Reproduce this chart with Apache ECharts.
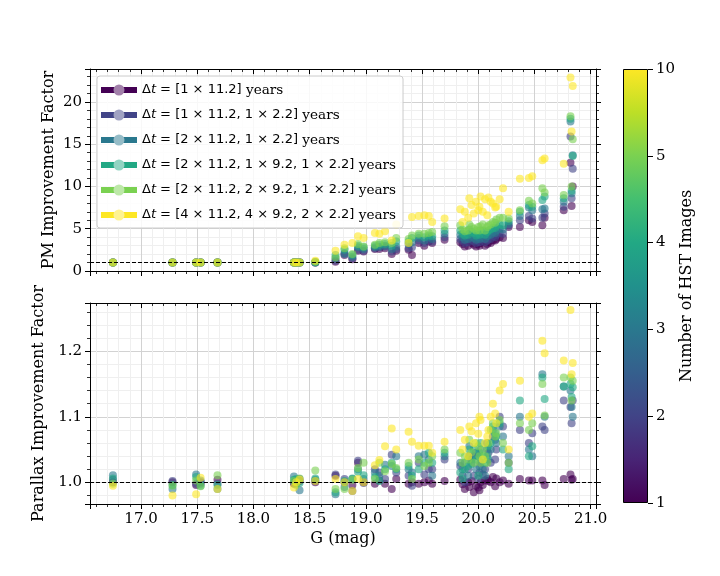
<!DOCTYPE html>
<html><head><meta charset="utf-8">
<script src="https://cdn.jsdelivr.net/npm/echarts@6/dist/echarts.min.js"></script>
<style>html,body{margin:0;padding:0;background:#fff}#c{width:720px;height:576px}</style>
</head><body><div id="c"></div>
<script>
// ---------------- data ----------------
const G = [16.75,17.28,17.49,17.53,17.68,18.36,18.38,18.41,18.55,
  18.73,18.81,18.88,18.93,18.98,19.08,19.12,19.17,19.23,19.27,19.38,19.41,19.47,19.52,19.56,19.59,19.70,
  19.86,19.88,19.91,19.94,19.96,19.98,20.00,20.02,20.04,20.06,20.08,20.11,20.13,20.16,20.19,20.22,20.27,20.37,20.45,20.48,20.57,20.59,20.76,20.82,20.84,20.83,
  19.84,19.92,20.01,20.09,20.15];

const pm1 = [1,1,1,1,1,1,1,1,1.0,
  1.1,1.9,1.4,2.4,2.3,2.6,2.6,2.7,2.0,2.4,2.5,1.9,3.3,3.0,3.5,3.3,3.7,
  3.2,2.9,3.0,3.3,3.1,2.9,3.2,3.3,3.5,3.0,3.2,3.3,3.6,3.8,4.0,3.9,5.2,5.2,6.0,5.8,5.4,6.3,7.2,12.8,10.0,7.7,
  3.4,3.5,3.0,3.4,3.6];
const pm2 = [1,1,1,1,1,1,1,1,1.0,
  1.2,2.1,1.5,2.5,2.4,2.7,2.8,2.9,2.3,2.6,2.7,2.8,3.6,3.3,3.7,3.5,4.0,
  3.6,3.3,3.4,3.7,3.5,3.3,3.6,3.8,3.9,3.4,3.6,3.8,4.1,4.3,4.5,4.4,5.4,6.0,6.5,6.2,6.3,6.8,7.6,15.9,12.1,8.6,
  3.8,3.9,3.4,3.8,4.0];
const pm3 = [1,1,1,1,1,1,1,1,1.0,
  1.5,2.0,1.7,2.8,2.6,2.8,2.9,3.0,2.6,2.9,3.2,3.4,3.9,3.6,4.0,3.8,4.4,
  4.0,3.7,3.8,4.1,3.9,3.7,4.0,4.2,4.3,3.8,4.1,4.3,4.6,4.8,5.0,4.9,5.6,6.5,7.5,7.2,7.3,7.4,8.2,17.7,13.7,9.2,
  4.3,4.4,3.8,4.3,4.5];
const pm4 = [1,1,1,1,1,1,1,1,1.05,
  1.9,2.5,1.9,3.0,2.8,3.0,3.1,3.2,3.0,3.5,3.5,3.9,4.2,4.0,4.2,4.1,4.8,
  4.4,4.2,4.3,4.6,4.5,4.2,4.5,4.8,4.8,4.3,4.6,4.9,5.1,5.4,5.5,5.4,5.9,7.0,7.8,7.6,8.4,8.8,8.6,18.0,13.6,9.5,
  4.8,4.9,4.3,4.8,5.1];
const pm5 = [1,1,1,1,1,1,1,1,1.1,
  1.6,2.7,2.0,3.2,2.9,3.1,3.3,3.4,3.3,3.9,3.8,4.2,4.4,4.4,4.5,4.6,5.3,
  4.9,4.7,4.8,5.2,5.0,4.8,5.2,5.3,5.5,4.8,5.2,5.5,5.8,6.1,6.3,6.3,6.2,7.2,8.3,8.0,9.8,9.3,9.0,18.3,15.6,10.0,
  5.4,5.5,4.8,5.4,5.7];
const pm6 = [1,1,1,1,1,1,1,1,1.2,
  2.4,3.1,3.3,4.1,3.9,4.5,4.4,4.7,3.6,5.5,3.3,6.4,6.5,6.6,6.5,5.8,6.2,
  5.8,7.0,6.3,7.8,6.8,8.2,7.2,8.8,7.0,8.5,6.6,8.2,8.0,7.6,8.5,9.8,7.0,10.9,11.0,11.2,13.1,13.3,12.7,22.9,21.9,16.5,
  7.3,8.6,7.6,8.7,7.5];

const plx1 = [1.000,1.000,0.996,1.000,1.004,0.998,1.000,1.002,1.000,
  1.010,1.000,0.996,1.030,1.000,0.998,1.003,0.998,0.990,1.005,0.998,1.000,0.998,1.000,1.003,0.998,1.002,
  0.997,0.990,1.000,1.002,0.985,0.995,0.992,1.000,0.996,1.003,1.005,1.000,1.008,1.006,1.000,1.003,0.998,1.005,1.003,1.003,1.003,0.996,1.005,1.012,1.005,1.004,
  1.004,0.993,0.988,1.002,0.994];
const plx2 = [1.004,1.002,0.998,0.998,0.998,1.000,1.003,1.005,1.002,
  1.012,1.005,0.987,1.033,0.999,1.020,1.015,1.005,1.042,1.015,1.010,0.995,1.030,1.012,1.020,1.020,1.035,
  1.010,1.000,1.020,1.030,1.010,1.045,1.005,1.030,1.012,1.020,1.060,1.030,1.070,1.050,1.100,1.085,1.030,1.080,1.060,1.075,1.085,1.080,1.125,1.115,1.125,1.090,
  1.025,1.040,1.015,1.045,1.035];
const plx3 = [1.011,0.990,1.012,1.003,0.990,1.009,0.998,0.988,1.004,
  0.982,0.993,1.005,1.020,1.005,1.015,1.010,1.027,1.025,1.040,1.020,1.015,1.040,1.042,1.035,1.010,1.040,
  1.020,1.030,1.010,1.035,1.040,1.020,1.040,1.050,1.020,1.010,1.050,1.050,1.080,1.060,1.085,1.070,1.040,1.100,1.050,1.040,1.165,1.100,1.146,1.140,1.100,1.115,
  1.030,1.055,1.025,1.035,1.065];
const plx4 = [1.006,0.996,1.008,0.995,0.996,1.004,1.005,0.999,1.006,
  0.985,1.002,1.006,1.016,1.011,1.008,1.002,1.020,1.030,1.020,1.025,1.010,1.020,1.030,1.045,1.030,1.045,
  1.005,1.020,1.025,1.028,1.050,1.035,1.010,1.060,1.040,1.030,1.040,1.060,1.085,1.070,1.090,1.050,1.020,1.125,1.040,1.055,1.160,1.127,1.146,1.150,1.145,1.130,
  1.015,1.050,1.045,1.055,1.075];
const plx5 = [0.998,0.995,1.003,0.994,1.011,1.002,0.996,1.006,1.018,
  0.990,0.990,1.004,1.022,1.030,1.005,1.030,1.017,1.028,1.022,1.030,1.005,1.035,1.025,1.030,1.040,1.050,
  1.030,1.040,1.035,1.046,1.030,1.060,1.055,1.030,1.050,1.040,1.030,1.080,1.090,1.075,1.095,1.060,1.030,1.090,1.080,1.090,1.150,1.102,1.160,1.160,1.155,1.125,
  1.045,1.065,1.040,1.060,1.070];
const plx6 = [0.995,0.980,0.982,1.007,0.990,0.992,1.000,1.004,1.002,
  1.005,1.000,0.987,1.005,1.000,1.026,1.034,1.055,1.082,1.050,1.077,1.062,1.056,1.056,1.056,1.045,1.062,
  1.050,1.065,1.040,1.078,1.060,1.090,1.074,1.095,1.035,1.060,1.070,1.100,1.120,1.090,1.140,1.150,1.050,1.155,1.100,1.105,1.216,1.197,1.186,1.263,1.182,1.165,
  1.080,1.085,1.100,1.080,1.105];

const scenarioMath = ['[1 × 11.2]', '[1 × 11.2, 1 × 2.2]', '[2 × 11.2, 1 × 2.2]',
  '[2 × 11.2, 1 × 9.2, 1 × 2.2]', '[2 × 11.2, 2 × 9.2, 1 × 2.2]', '[4 × 11.2, 4 × 9.2, 2 × 2.2]'];
const cbTicks = [1, 2, 3, 4, 5, 10];

// ---------------- styles ----------------
const FONT = 'DejaVu Serif';
const COLORS = ['#440154', '#414487', '#2a788e', '#22a884', '#7ad151', '#fde725'];
const VIRIDIS = ['#440154','#482475','#414487','#355f8d','#2a788e','#21918c','#22a884','#44bf70','#7ad151','#bddf26','#fde725'];
const X_MIN = 16.546, X_MAX = 21.047;
const PM_MIN = 0, PM_MAX = 23.9;
const PLX_MIN = 0.967, PLX_MAX = 1.2735;

function lighten(hex, a) {
  const n = parseInt(hex.slice(1), 16);
  const r = (n >> 16) & 255, g = (n >> 8) & 255, b = n & 255;
  const f = c => Math.round(c * a + 255 * (1 - a));
  return 'rgb(' + f(r) + ',' + f(g) + ',' + f(b) + ')';
}

const pmSets = [pm1, pm2, pm3, pm4, pm5, pm6];
const plxSets = [plx1, plx2, plx3, plx4, plx5, plx6];
const names = scenarioMath.map(m => 'Δt = ' + m + ' years');

const black = '#000';
const majorGrid = { show: true, lineStyle: { color: '#d2d2d2', width: 1 } };
const minorGrid = { show: true, lineStyle: { color: '#efefef', width: 1 } };

function valAxis(base) {
  return Object.assign({
    type: 'value',
    axisLine: { show: true, onZero: false, lineStyle: { color: black, width: 1 } },
    axisTick: { show: true, length: 5, inside: false, lineStyle: { color: black, width: 1 } },
    minorTick: { show: true, splitNumber: 5, length: 3, lineStyle: { color: black, width: 0.8 } },
    axisLabel: { show: false },
    splitLine: { show: false },
    minorSplitLine: { show: false },
    nameMoveOverlap: false
  }, base);
}
const labelStyle = { fontFamily: FONT, fontSize: 15, color: black, margin: 8 };
const nameStyle = { fontFamily: FONT, fontSize: 16, color: black };

const xAxes = [
  valAxis({ gridIndex: 0, position: 'bottom', min: X_MIN, max: X_MAX, splitNumber: 9,
    splitLine: majorGrid, minorSplitLine: minorGrid }),
  valAxis({ gridIndex: 0, position: 'top', min: X_MIN, max: X_MAX, splitNumber: 9,
    axisTick: { show: true, length: 5, inside: true, lineStyle: { color: black } } }),
  valAxis({ gridIndex: 1, position: 'bottom', min: X_MIN, max: X_MAX, splitNumber: 9,
    splitLine: majorGrid, minorSplitLine: minorGrid,
    axisLabel: Object.assign({ show: true, showMinLabel: false, showMaxLabel: false,
      formatter: v => v.toFixed(1) }, labelStyle),
    name: 'G (mag)', nameLocation: 'middle', nameGap: 27, nameTextStyle: nameStyle }),
  valAxis({ gridIndex: 1, position: 'top', min: X_MIN, max: X_MAX, splitNumber: 9,
    axisTick: { show: true, length: 5, inside: true, lineStyle: { color: black } } }),
  { type: 'category', gridIndex: 2, data: ['cb'], show: false }
];

const yAxes = [
  valAxis({ gridIndex: 0, position: 'left', min: PM_MIN, max: PM_MAX, splitNumber: 5,
    splitLine: majorGrid, minorSplitLine: minorGrid,
    axisLabel: Object.assign({ show: true, showMaxLabel: false, formatter: v => String(Math.round(v)) }, labelStyle),
    name: 'PM Improvement Factor', nameLocation: 'middle', nameGap: 33, nameTextStyle: nameStyle }),
  valAxis({ gridIndex: 0, position: 'right', min: PM_MIN, max: PM_MAX, splitNumber: 5 }),
  valAxis({ gridIndex: 1, position: 'left', min: PLX_MIN, max: PLX_MAX, splitNumber: 3,
    splitLine: majorGrid, minorSplitLine: minorGrid,
    axisLabel: Object.assign({ show: true, showMinLabel: false, showMaxLabel: false, formatter: v => v.toFixed(1) }, labelStyle),
    name: 'Parallax Improvement Factor', nameLocation: 'middle', nameGap: 43, nameTextStyle: nameStyle }),
  valAxis({ gridIndex: 1, position: 'right', min: PLX_MIN, max: PLX_MAX, splitNumber: 3 }),
  { type: 'value', gridIndex: 2, position: 'right', min: 0, max: cbTicks.length - 1, interval: 1,
    axisLine: { show: false },
    axisTick: { show: true, length: 5, lineStyle: { color: black } },
    axisLabel: Object.assign({}, labelStyle, { formatter: v => String(cbTicks[v]) }),
    splitLine: { show: false },
    name: 'Number of HST Images', nameLocation: 'middle', nameRotate: 90, nameGap: 31,
    nameMoveOverlap: false, nameTextStyle: nameStyle }
];

const dashLine = {
  silent: true, symbol: 'none', animation: false,
  label: { show: false },
  lineStyle: { color: black, type: [4, 2], width: 1 },
  data: [{ yAxis: 1 }]
};

const series = [];
for (let s = 0; s < 6; s++) {
  series.push({
    name: names[s], type: 'scatter', xAxisIndex: 0, yAxisIndex: 0,
    symbolSize: 8, itemStyle: { color: COLORS[s], opacity: 0.6 },
    data: G.map((g, i) => [g, pmSets[s][i]]),
    markLine: s === 5 ? dashLine : undefined, z: 2
  });
}
for (let s = 0; s < 6; s++) {
  series.push({
    name: names[s], type: 'scatter', xAxisIndex: 2, yAxisIndex: 2,
    symbolSize: 8, itemStyle: { color: COLORS[s], opacity: 0.6 },
    data: G.map((g, i) => [g, plxSets[s][i]]),
    markLine: s === 5 ? dashLine : undefined, z: 2
  });
}
series.push({
  type: 'bar', xAxisIndex: 4, yAxisIndex: 4, barWidth: '100%', silent: true,
  data: [cbTicks.length - 1],
  itemStyle: {
    borderColor: black, borderWidth: 1,
    color: new echarts.graphic.LinearGradient(0, 1, 0, 0,
      VIRIDIS.map((c, i) => ({ offset: i / (VIRIDIS.length - 1), color: c })))
  }
});

function richFor(color) {
  return {
    m: { fontFamily: 'DejaVu Sans', fontSize: 13, lineHeight: 14, color: color },
    i: { fontFamily: 'DejaVu Sans', fontStyle: 'italic', fontSize: 13, lineHeight: 14, color: color },
    s: { fontFamily: FONT, fontSize: 13.6, lineHeight: 14, color: color }
  };
}
function legendFormatter(name) {
  const idx = names.indexOf(name);
  return '{m|Δ}{i|t}{m| = ' + scenarioMath[idx] + '}{s| years}';
}
const legendBase = {
  orient: 'vertical', left: 97, top: 76, padding: [7, 7, 6, 4],
  itemWidth: 36, itemHeight: 14, itemGap: 11, selectedMode: false,
  borderRadius: 3, borderWidth: 1
};
const barIcon = 'path://M0,0L0.01,0M36,14L35.99,14M0,4L36,4L36,10L0,10Z';
const dotIcon = 'path://M0,0L0.01,0M36,14L35.99,14M23.5,7A5.5,5.5,0,1,1,12.5,7A5.5,5.5,0,1,1,23.5,7Z';

const legends = [
  Object.assign({}, legendBase, {
    borderColor: '#cccccc', backgroundColor: 'rgba(255,255,255,0.85)', z: 5,
    data: names.map((n, i) => ({ name: n, icon: barIcon, itemStyle: { color: COLORS[i], opacity: 1 } })),
    formatter: legendFormatter,
    textStyle: { fontFamily: 'DejaVu Sans', fontSize: 13, lineHeight: 14, color: black, rich: richFor(black) }
  }),
  Object.assign({}, legendBase, {
    borderColor: 'rgba(0,0,0,0)', backgroundColor: 'rgba(0,0,0,0)', z: 6,
    data: names.map((n, i) => ({ name: n, icon: dotIcon, itemStyle: { color: lighten(COLORS[i], 0.5), opacity: 1 } })),
    formatter: legendFormatter,
    textStyle: { fontFamily: 'DejaVu Sans', fontSize: 13, lineHeight: 14, color: 'rgba(0,0,0,0)', rich: richFor('rgba(0,0,0,0)') }
  })
];

const chart = echarts.init(document.getElementById('c'), null, { renderer: 'canvas' });
chart.setOption({
  animation: false,
  backgroundColor: '#ffffff',
  textStyle: { fontFamily: FONT },
  grid: [
    { left: 90, top: 69, width: 506, height: 202 },
    { left: 90, top: 303, width: 506, height: 201 },
    { left: 623, top: 69, width: 25, height: 434 }
  ],
  xAxis: xAxes,
  yAxis: yAxes,
  legend: legends,
  series: series
});
</script>
</body></html>
